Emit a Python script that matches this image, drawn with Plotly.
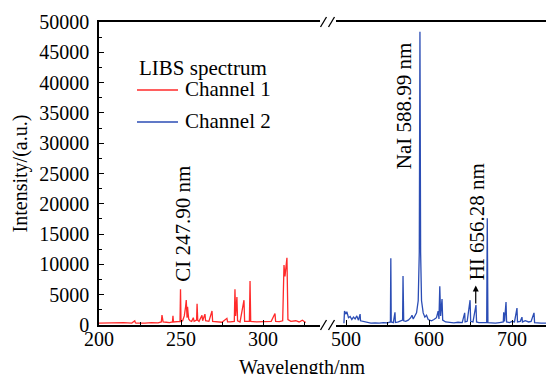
import plotly.graph_objects as go

# ---- data ----
ch1_wl = [200, 205, 210, 215, 220, 221.8, 222.2, 222.6, 228, 232, 236, 238.0, 238.4, 238.7, 239.1,
          241, 243, 244.8, 245.1, 245.4, 247.5, 249.4, 249.7, 250.0, 251, 252, 252.8, 253.2, 253.7,
          254.0, 254.3, 254.7, 255.5, 256.5, 257.5, 258, 259.5, 259.8, 260.2, 261, 262.8, 263.2,
          264.6, 265.0, 267, 268.9, 269.3, 272, 275, 278, 278.4, 280, 282.5, 282.9, 283.3, 284.1,
          284.5, 286, 288.4, 288.8, 291.7, 292.1, 292.5, 296, 300, 303, 305, 307.3, 307.7, 310,
          312, 312.8, 313.4, 314.6, 315.2, 317, 320, 322, 324, 326]
ch1_int = [300, 350, 300, 380, 320, 700, 350, 300, 300, 400, 350, 500, 1650, 1200, 500,
           450, 400, 500, 1500, 500, 500, 600, 5900, 600, 700, 1500, 3000, 4100, 1200,
           3000, 2000, 1000, 700, 600, 1200, 600, 800, 3500, 800, 600, 1600, 700,
           1800, 700, 600, 2300, 600, 500, 450, 1100, 500, 500, 600, 5900, 1500, 4600,
           700, 500, 4100, 600, 600, 7260, 600, 500, 550, 500, 600, 1900, 600, 550,
           700, 9900, 8000, 11100, 900, 600, 700, 500, 800, 400]

ch2_wl = [497.5, 498.2, 500, 501, 503, 505, 507, 509, 511, 513, 515, 517, 517.5, 520, 525, 530,
          535, 540, 545, 550, 553.5, 554, 554.5, 557, 559, 559.5, 563, 566, 568.2, 568.7, 569.5,
          572, 575, 578, 579.5, 581, 583, 585, 587, 588.3, 589.1, 589.9, 591, 593, 595, 597, 599,
          601, 603, 606, 609, 611, 612, 613, 614, 615.7, 616.5, 620, 625, 630, 635, 640, 643,
          643.5, 646, 649.5, 650.2, 653, 656.6, 657.3, 660, 665, 669.5, 670.2, 671, 675, 680,
          685, 689.5, 690, 691, 692.8, 693.5, 697, 700, 703, 706, 706.6, 710, 712, 712.6, 716,
          720, 723, 726.5, 727.2, 730, 735, 741]
ch2_int = [300, 2300, 1800, 2200, 1200, 1400, 900, 1300, 1000, 1500, 800, 1800, 700, 600, 400, 300,
           350, 300, 400, 350, 500, 11000, 500, 400, 2100, 400, 500, 700, 800, 8100, 700,
           600, 800, 1200, 1600, 1000, 1500, 2000, 4000, 12000, 48400, 12000, 4000, 2000, 1300, 1600, 900,
           800, 700, 900, 1200, 2300, 1000, 6400, 1500, 4300, 800, 500, 400, 350, 450, 400, 2000,
           500, 600, 4100, 600, 500, 3300, 500, 400, 350, 400, 17600, 400, 350, 300,
           400, 500, 2100, 600, 3800, 500, 400, 600, 500, 2800, 500, 600, 1300, 500, 700,
           500, 600, 2000, 400, 350, 300, 300]

series_names = ["Channel 1", "Channel 2"]
series_colors = ["#FF2A2A", "#2B4DB5"]
legend_title = "LIBS spectrum"
y_ticks = [0, 5000, 10000, 15000, 20000, 25000, 30000, 35000, 40000, 45000, 50000]
x1_ticks = [200, 250, 300]
x2_ticks = [500, 600, 700]
peak_labels = [("CI 247.90 nm", "x", 251.2, 16700),
               ("NaI 588.99 nm", "x2", 569.9, 36100),
               ("HI 656.28 nm", "x2", 657.8, 17100)]

FONT = "Liberation Serif, Times New Roman, serif"
W, H = 546, 374
L, R, T, B = 99, 0, 22, 49
PW, PH = W - L - R, H - T - B


def px(xp):
    return (xp - L) / PW


def py(yp):
    return (H - B - yp) / PH


d1 = [0, px(320)]
d2 = [px(336), 1]

fig = go.Figure()
fig.add_trace(go.Scatter(x=ch1_wl, y=ch1_int, mode="lines", name=series_names[0],
                         line=dict(color=series_colors[0], width=1.3), xaxis="x", yaxis="y",
                         showlegend=False))
fig.add_trace(go.Scatter(x=ch2_wl, y=ch2_int, mode="lines", name=series_names[1],
                         line=dict(color=series_colors[1], width=1.3), xaxis="x2", yaxis="y",
                         showlegend=False))

axis_common = dict(showline=True, linecolor="black", linewidth=1.5, ticks="inside",
                   ticklen=5, tickwidth=1.2, tickcolor="black", showgrid=False, zeroline=False,
                   tickfont=dict(family=FONT, size=20, color="black"), mirror=True)

fig.update_layout(
    width=W, height=H, margin=dict(l=L, r=R, t=T, b=B),
    paper_bgcolor="white", plot_bgcolor="white",
    showlegend=False,
    xaxis=dict(domain=d1, range=[200, 200 + (320 - 99) / 1.64], tickvals=x1_ticks,
               minor=dict(dtick=25, tick0=200, ticks="inside", ticklen=3, tickcolor="black"),
               anchor="y", ticklabelstandoff=-5, **axis_common),
    xaxis2=dict(domain=d2, range=[500 - 10 / 0.83, 500 + 200 / 0.83], tickvals=x2_ticks,
                minor=dict(dtick=50, tick0=500, ticks="inside", ticklen=3, tickcolor="black"),
                anchor="y", ticklabelstandoff=-5, **axis_common),
    yaxis=dict(domain=[0, 1], range=[0, 50000], tickvals=y_ticks, tickformat="d",
               minor=dict(dtick=2500, ticks="inside", ticklen=3, tickcolor="black"),
               title=dict(text="Intensity/(a.u.)", font=dict(family=FONT, size=20, color="black"),
                          standoff=6),
               ticklabelstandoff=4,
               showline=True, linecolor="black", linewidth=1.5, ticks="inside", ticklen=5,
               tickwidth=1.2, tickcolor="black", showgrid=False, zeroline=False,
               tickfont=dict(family=FONT, size=20, color="black")),
)

# x axis title
fig.add_annotation(text="Wavelength/nm", xref="paper", yref="paper", x=px(302), y=py(367),
                   showarrow=False, xanchor="center", yanchor="middle",
                   font=dict(family=FONT, size=20, color="black"))

# legend (drawn by hand to match the reference's spacing)
fig.add_annotation(text=legend_title, xref="paper", yref="paper", x=px(137), y=py(68),
                   showarrow=False, xanchor="left", yanchor="middle",
                   font=dict(family=FONT, size=21, color="black"))
for name, color, yc in zip(series_names, series_colors, (90, 122)):
    fig.add_shape(type="line", xref="paper", yref="paper", x0=px(137), x1=px(178),
                  y0=py(yc), y1=py(yc), line=dict(color=color, width=1.5))
    fig.add_annotation(text=name, xref="paper", yref="paper", x=px(183), y=py(yc - 1),
                       showarrow=False, xanchor="left", yanchor="middle",
                       font=dict(family=FONT, size=21, color="black"))

# peak labels
for txt, xr, xv, yv in peak_labels:
    fig.add_annotation(text=txt, xref=xr, yref="y", x=xv, y=yv, textangle=-90, showarrow=False,
                       xanchor="center", yanchor="middle",
                       font=dict(family=FONT, size=21, color="black"))

# arrow under HI label
fig.add_annotation(text="", xref="x2", yref="y", x=656.3, y=6500, axref="x2", ayref="y",
                   ax=656.3, ay=3300, showarrow=True, arrowhead=2, arrowsize=1,
                   arrowwidth=1.2, arrowcolor="black")

# axis break marks
for yc in (H - B, T):
    for xc in (323.5, 331.5):
        fig.add_shape(type="line", xref="paper", yref="paper",
                      x0=px(xc - 3), y0=py(yc + 5), x1=px(xc + 3), y1=py(yc - 5),
                      line=dict(color="black", width=1.3))

fig.write_html("out.html")
